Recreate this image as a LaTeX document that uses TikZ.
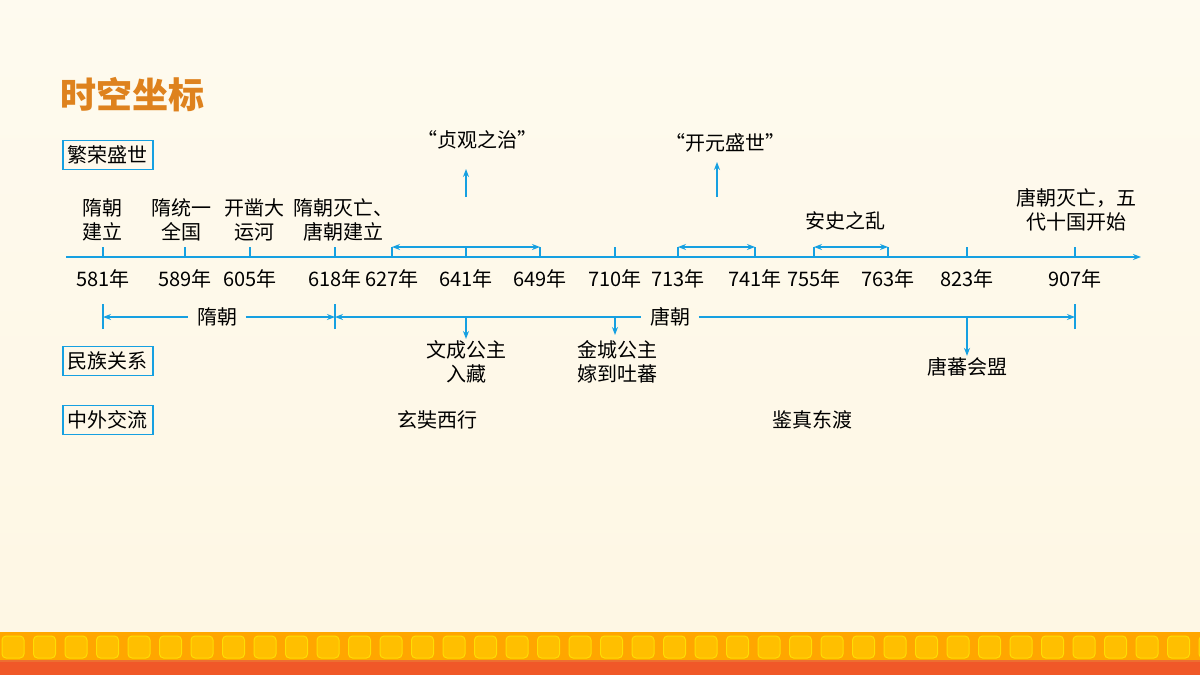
\documentclass[tikz,border=0pt]{standalone}
\usepackage{fontspec}
\setmainfont{Noto Sans CJK SC}
\usetikzlibrary{arrows.meta}
\definecolor{lineblue}{RGB}{22,160,225}
\definecolor{titleorange}{RGB}{222,130,30}
\definecolor{bgcream}{RGB}{254,247,228}
\definecolor{bandorange}{RGB}{236,110,50}
\tikzset{every picture/.style={line width=0.75pt}}
\tikzset{
  lbl/.style={font=\fontsize{10}{12}\selectfont, inner sep=0.5pt, align=center},
  tagbox/.style={draw=lineblue, line width=0.6pt, font=\fontsize{10}{12}\selectfont, inner sep=2.5pt},
  axis/.style={draw=lineblue, line width=0.7pt},
  span/.style={axis, {Stealth[length=4pt]}-{Stealth[length=4pt]}},
  up/.style={axis, -{Stealth[length=4pt]}},
}
\begin{document}
\begin{tikzpicture}[x=0.5pt,y=0.5pt,yscale=-1]
\useasboundingbox (0,0) rectangle (1200,675);
% background
\fill[top color=bgcream!60!white, bottom color=bgcream] (0,0) rectangle (1200,632);
% bottom band
\fill[bandorange] (0,632) rectangle (1200,675);
\fill[orange!70!yellow] (0,632) rectangle (1200,660);
\foreach \i in {0,...,38}{
  \fill[orange!50!yellow, draw=yellow!80!orange, line width=0.5pt, rounded corners=2pt] (\i*31.5+2,636) rectangle ++(22,22);
}
\fill[bandorange!80!red] (0,662) rectangle (1200,675);

% title
\node[anchor=west, text=titleorange, font=\fontsize{18}{20}\selectfont\bfseries] (title) at (53,95) {时空坐标};

% row tags
\node[tagbox] (tagA) at (108,155) {繁荣盛世};
\node[tagbox] (tagB) at (108,361) {民族关系};
\node[tagbox] (tagC) at (108,420) {中外交流};

% axis
\coordinate (axL) at (66,257);
\coordinate (axR) at (1141,257);
\draw[up] (axL) -- (axR);
\foreach \x/\y in {103/581,185/589,250/605,335/618,392/627,466/641,540/649,615/710,678/713,755/741,814/755,888/763,967/823,1075/907}{
  \coordinate (t\y) at (\x,257);
  \draw[axis] (t\y) -- ++(0,-10);
  \node[lbl] (y\y) at (\x,279) {\y 年};
}

% events above axis
\node[lbl] (e581) at (103,220) {隋朝\\建立};
\node[lbl] (e589) at (181,220) {隋统一\\全国};
\node[lbl] (e605) at (254,220) {开凿大\\运河};
\node[lbl] (e618) at (343,220) {隋朝灭亡、\\唐朝建立};
\node[lbl] (e755) at (845,221) {安史之乱};
\node[lbl] (e907) at (1076,210) {唐朝灭亡，五\\代十国开始};

% spans on axis
\draw[span] ([yshift=-5pt]t627) -- ([yshift=-5pt]t649);
\draw[span] ([yshift=-5pt]t713) -- ([yshift=-5pt]t741);
\draw[span] ([yshift=-5pt]t755) -- ([yshift=-5pt]t763);

% golden ages
\node[lbl] (zg) at (477,140) {“贞观之治”};
\node[lbl] (ky) at (725,143) {“开元盛世”};
\coordinate (zgA) at (466,197);
\coordinate (kyA) at (717,197);
\draw[up] (zgA) -- ++(0,-28);
\draw[up] (kyA) -- ++(0,-35);

% dynasties
\coordinate (sL) at (103,317);
\coordinate (sM) at (335,317);
\coordinate (sR) at (1075,317);
\foreach \c in {sL,sM,sR} \draw[axis] ([yshift=6pt]\c) -- ([yshift=-6.5pt]\c);
\node[lbl, fill=bgcream!80!white, inner xsep=4pt, inner ysep=0pt] (sui) at (217,317) {隋朝};
\node[lbl, fill=bgcream!80!white, inner xsep=4pt, inner ysep=0pt] (tang) at (670,317) {唐朝};
\draw[axis, {Stealth[length=4pt]}-] (sL) -- (sui.west);
\draw[axis, -{Stealth[length=4pt]}] (sui.east) -- (sM);
\draw[axis, {Stealth[length=4pt]}-] (sM) -- (tang.west);
\draw[axis, -{Stealth[length=4pt]}] (tang.east) -- (sR);

% ethnic relations
\node[lbl] (wc) at (466,362) {文成公主\\入藏};
\node[lbl] (jc) at (617,362) {金城公主\\嫁到吐蕃};
\node[lbl] (tb) at (967,367) {唐蕃会盟};
\draw[up] (466,317) -- (wc.north);
\draw[up] (615,317) -- (615,335);
\draw[up] (967,317) -- (tb.north);

% exchanges
\node[lbl] (xz) at (437,420) {玄奘西行};
\node[lbl] (jz) at (812,420) {鉴真东渡};
\end{tikzpicture}
\end{document}
